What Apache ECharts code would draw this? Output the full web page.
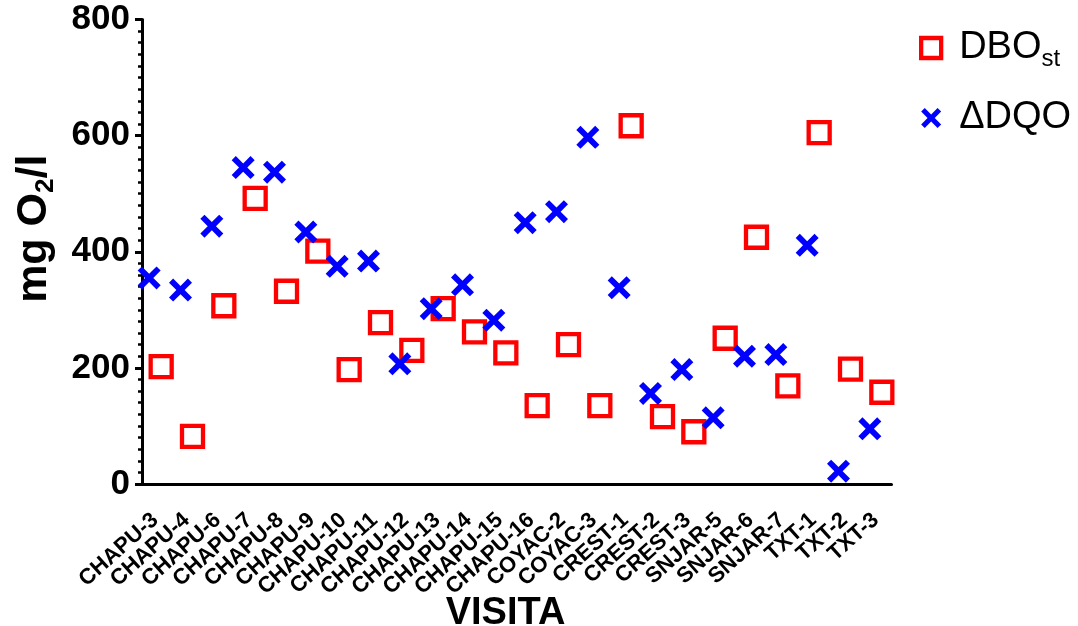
<!DOCTYPE html>
<html>
<head>
<meta charset="utf-8">
<script src="https://cdn.jsdelivr.net/npm/echarts@6/dist/echarts.min.js"></script>
<style>
  html, body { margin: 0; padding: 0; background: #fff; }
  #chart { width: 1078px; height: 626px; }
</style>
</head>
<body>
<div id="chart"></div>
<script>
// visits on the x axis
var visitas = ['CHAPU-3', 'CHAPU-4', 'CHAPU-6', 'CHAPU-7', 'CHAPU-8', 'CHAPU-9', 'CHAPU-10', 'CHAPU-11',
  'CHAPU-12', 'CHAPU-13', 'CHAPU-14', 'CHAPU-15', 'CHAPU-16', 'COYAC-2', 'COYAC-3', 'CREST-1',
  'CREST-2', 'CREST-3', 'SNJAR-5', 'SNJAR-6', 'SNJAR-7', 'TXT-1', 'TXT-2', 'TXT-3'];
// mg O2/l
var dboSt = [202, 82, 307, 492, 332, 401, 197, 278, 230, 302, 262, 226, 135, 240, 135, 617, 116, 90, 251, 425, 169, 605, 198, 158];
var deltaDqo = [355, 334, 444, 545, 537, 434, 375, 384, 207, 302, 343, 282, 450, 469, 597, 338, 156, 197, 114, 220, 223, 411, 22, 95];
var yTicks = [0, 200, 400, 600, 800];

var font = 'Liberation Sans';
// filled X shape
var xMark = 'path://M18,0 L50,32 L82,0 L100,18 L68,50 L100,82 L82,100 L50,68 L18,100 L0,82 L32,50 L0,18 Z';

var myChart = echarts.init(document.getElementById('chart'));
var option = {
  backgroundColor: '#fff',
  animation: false,
  textStyle: { fontFamily: font },
  grid: { left: 139.5, width: 752, top: 19.5, height: 464.5, outerBoundsMode: 'none', containLabel: false },
  legend: {
    orient: 'vertical',
    left: 919,
    top: 29,
    padding: 0,
    itemWidth: 20,
    itemHeight: 20,
    itemGap: 28,
    selectedMode: false,
    formatter: function (name) {
      return name === 'DBOst' ? '{m|DBO}{sub|st}' : '{m|' + name + '}';
    },
    textStyle: {
      color: '#000',
      rich: {
        m: { fontSize: 38, fontFamily: font, color: '#000', padding: [0, 0, 0, 13] },
        sub: { fontSize: 24, fontFamily: font, color: '#000', padding: [22, 0, 0, 0] }
      }
    },
    data: [
      { name: 'DBOst', itemStyle: { color: '#fff', borderColor: '#ff0000', borderWidth: 4.3 } },
      { name: 'ΔDQO' }
    ]
  },
  xAxis: {
    type: 'category',
    data: visitas,
    boundaryGap: true,
    name: 'VISITA',
    nameLocation: 'middle',
    nameGap: 111,
    nameMoveOverlap: false,
    nameTextStyle: { fontSize: 38, fontWeight: 'bold', color: '#000', fontFamily: font, padding: [0, 20, 0, 0] },
    axisLine: { lineStyle: { color: '#000', width: 3 } },
    axisTick: { alignWithLabel: true, length: 7, lineStyle: { color: '#000', width: 3 } },
    axisLabel: { interval: 0, rotate: 42, margin: 33, fontSize: 22, fontWeight: 'bold', color: '#000', fontFamily: font },
    splitLine: { show: false }
  },
  yAxis: {
    type: 'value',
    min: yTicks[0],
    max: yTicks[yTicks.length - 1],
    interval: 200,
    offset: -2.5,
    name: 'mg O{sub|2}/l',
    nameLocation: 'middle',
    nameGap: 83,
    nameRotate: 90,
    nameTextStyle: {
      fontSize: 43, fontWeight: 'bold', color: '#000', fontFamily: font,
      padding: [0, 0, 0, 46],
      rich: {
        sub: { fontSize: 26, fontWeight: 'bold', color: '#000', fontFamily: font, padding: [24, 0, 0, 0] }
      }
    },
    axisLine: { show: true, lineStyle: { color: '#000', width: 3 } },
    axisTick: { show: true, length: 7, lineStyle: { color: '#000', width: 3 } },
    minorTick: { show: true, splitNumber: 10, length: 4, lineStyle: { color: '#000', width: 2.5 } },
    axisLabel: { margin: 12, fontSize: 35, fontWeight: 'bold', color: '#000', fontFamily: font },
    splitLine: { show: false }
  },
  series: [
    {
      name: 'DBOst',
      type: 'scatter',
      data: dboSt,
      symbol: 'rect',
      symbolSize: 21,
      symbolOffset: [6, 0],
      itemStyle: { color: '#fff', borderColor: '#ff0000', borderWidth: 4.3, opacity: 1 },
      z: 2
    },
    {
      name: 'ΔDQO',
      type: 'scatter',
      data: deltaDqo,
      symbol: xMark,
      symbolSize: 23,
      symbolOffset: [-6, 0],
      itemStyle: { color: '#0000ff', opacity: 1 },
      z: 3
    }
  ]
};
myChart.setOption(option);
</script>
</body>
</html>
